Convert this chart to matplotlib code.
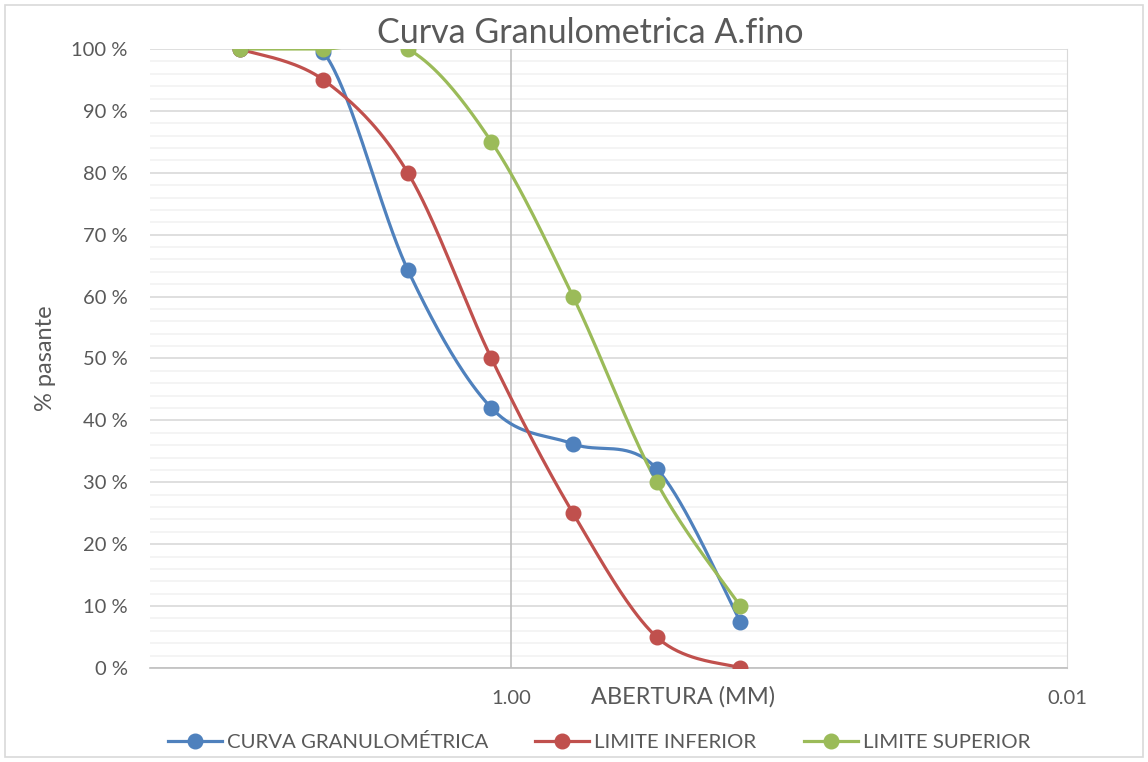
#!/usr/bin/env python3
"""Curva granulometrica del agregado fino con limites (estilo Excel)."""
import numpy as np
import matplotlib.pyplot as plt
from matplotlib.patches import Rectangle
from matplotlib.ticker import FixedLocator, FuncFormatter, MultipleLocator

plt.rcParams['font.family'] = ['Lato', 'DejaVu Sans']

# abertura de tamices (mm)
abertura = [9.5, 4.75, 2.36, 1.18, 0.6, 0.3, 0.15]
curva = [100, 99.5, 64.3, 42.0, 36.2, 32.2, 7.5]
lim_inf = [100, 95, 80, 50, 25, 5, 0]
lim_sup = [100, 100, 100, 85, 60, 30, 10]

series = [
    ('CURVA GRANULOMÉTRICA', curva, '#4F81BD'),
    ('LIMITE INFERIOR', lim_inf, '#C0504D'),
    ('LIMITE SUPERIOR', lim_sup, '#9BBB59'),
]
GREY = '#595959'


def smooth(x, y, n=40):
    # bezier tipo Excel (catmull-rom) en espacio log
    u = -np.log10(np.asarray(x, float))
    y = np.asarray(y, float)
    P = np.column_stack([u, y])
    P = np.vstack([P[0], P, P[-1]])
    out = []
    t = np.linspace(0, 1, n)[:, None]
    for i in range(1, len(P) - 2):
        p0, p3 = P[i], P[i + 1]
        c1 = p0 + (P[i + 1] - P[i - 1]) / 6
        c2 = p3 - (P[i + 2] - P[i]) / 6
        seg = ((1 - t) ** 3) * p0 + 3 * ((1 - t) ** 2) * t * c1 + 3 * (1 - t) * t ** 2 * c2 + t ** 3 * p3
        out.append(seg)
    pts = np.vstack(out)
    return 10 ** (-pts[:, 0]), pts[:, 1]


fig = plt.figure(figsize=(11.48, 7.62), dpi=100)
ax = fig.add_axes([0.1307, 0.1234, 0.9294 - 0.1307, 0.9357 - 0.1234])

for name, vals, col in series:
    sx, sy = smooth(abertura, vals)
    ax.plot(sx, sy, color=col, lw=2.3, solid_capstyle='round', zorder=3)
    ax.plot(abertura, vals, 'o', color=col, ms=10.5, zorder=4)
    ax.plot([], [], '-o', color=col, lw=2.3, ms=10.5, label=name)

ax.set_xscale('log')
ax.set_xlim(20, 0.01)
ax.set_ylim(0, 100)
ax.xaxis.set_major_locator(FixedLocator([1, 0.01]))
ax.xaxis.set_minor_locator(FixedLocator([]))
ax.xaxis.set_major_formatter(FuncFormatter(lambda v, p: f'{v:.2f}'))
ax.yaxis.set_major_locator(MultipleLocator(10))
ax.yaxis.set_minor_locator(MultipleLocator(2))
ax.yaxis.set_major_formatter(FuncFormatter(lambda v, p: f'{v:.0f} %'))

ax.grid(axis='y', which='minor', color='#F2F2F2', lw=1.2)
ax.grid(axis='y', which='major', color='#D9D9D9', lw=1.2)
ax.set_axisbelow(True)
# linea vertical mayor por encima de la rejilla horizontal
ax.axvline(ax.get_xticks()[0], color='#BFBFBF', lw=1.2, zorder=1.5)

ax.tick_params(axis='both', which='both', length=0, colors=GREY, labelsize=14.5)
ax.tick_params(axis='x', pad=16)
ax.tick_params(axis='y', pad=16)
for s in ['top', 'left']:
    ax.spines[s].set_visible(False)
ax.spines['right'].set_color('#D9D9D9')
ax.spines['bottom'].set_color('#BFBFBF')
ax.spines['bottom'].set_linewidth(1.2)

ax.set_ylabel('% pasante', color=GREY, fontsize=17, labelpad=11)
fig.text(683 / 1148, 1 - 697 / 762, 'ABERTURA (MM)', color=GREY, fontsize=17,
         ha='center', va='center')
fig.text(590 / 1148, 1 - 33 / 762, 'Curva Granulometrica A.fino', color=GREY,
         fontsize=24.5, ha='center', va='center')

fig.legend(loc='center', bbox_to_anchor=(599 / 1148, 1 - 742 / 762), ncol=3,
           frameon=False, fontsize=14.7, labelcolor=GREY, handlelength=2.65,
           columnspacing=2.3, handletextpad=0.25)

fig.patches.append(Rectangle((5 / 1148, 5 / 762), 1 - 10 / 1148, 1 - 10 / 762,
                             transform=fig.transFigure, fill=False,
                             edgecolor='#D9D9D9', lw=1.2))

fig.savefig('out.png', dpi=100)
